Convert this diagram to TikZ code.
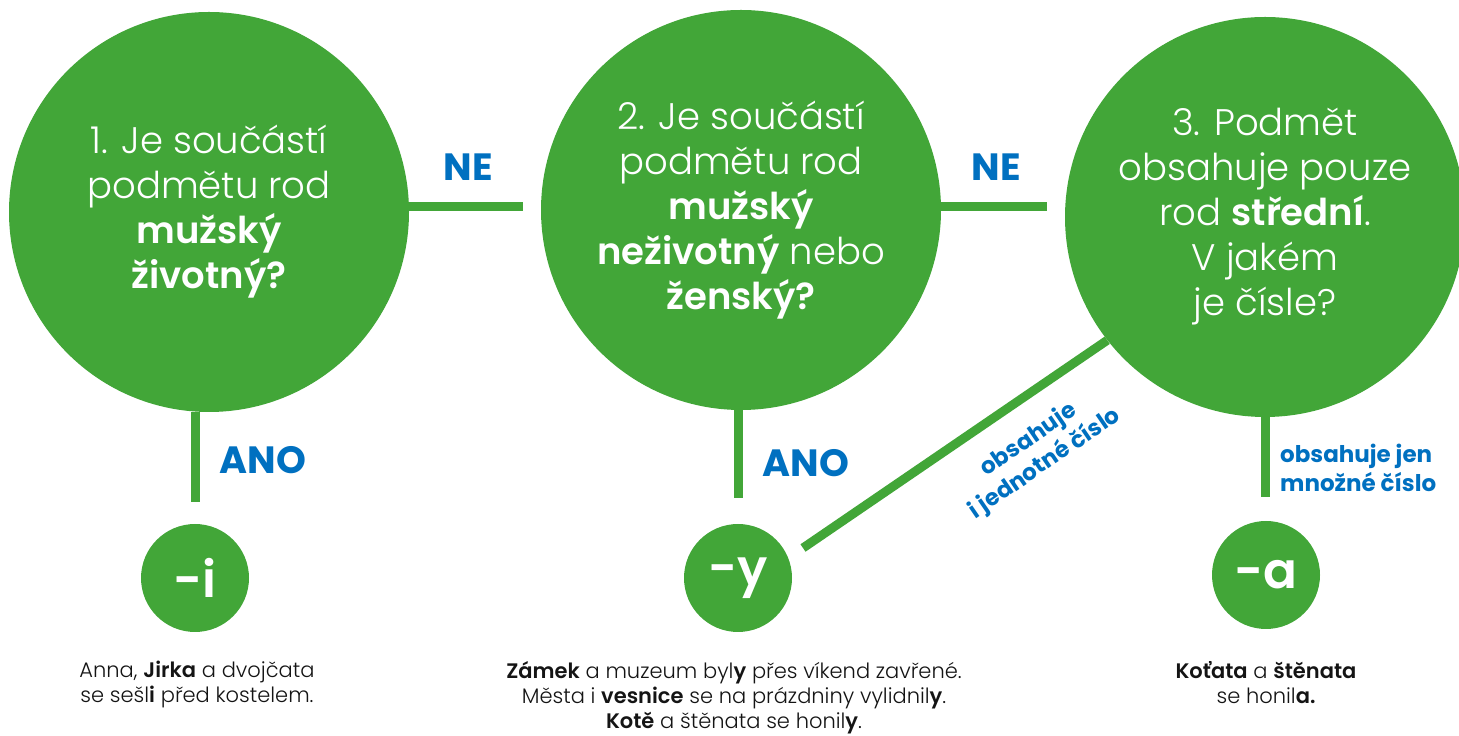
\documentclass[tikz,border=0pt]{standalone}
\usepackage{fontspec}
\setmainfont{Poppins}[UprightFont=* Light, BoldFont=* SemiBold]
\newfontfamily\labfont{Poppins}[UprightFont=* SemiBold, BoldFont=* Bold]
\definecolor{cgreen}{RGB}{66,166,56}
\definecolor{cblue}{RGB}{0,112,192}
\definecolor{ctext}{RGB}{20,20,20}
\tikzset{
  bigq/.style={circle, fill=cgreen, inner sep=0pt, minimum size=400pt, text=white, align=center,
    font=\fontsize{37}{45}\selectfont},
  endc/.style={circle, fill=cgreen, inner sep=0pt, minimum size=108pt, text=white,
    font=\labfont\fontsize{50}{50}\selectfont},
  conn/.style={draw=cgreen, line width=9pt},
  lab/.style={text=cblue, font=\labfont\bfseries\fontsize{38}{40}\selectfont},
  slab/.style={text=cblue, font=\labfont\bfseries\fontsize{23}{29}\selectfont, align=left, inner sep=0pt},
  ex/.style={text=ctext, font=\fontsize{21}{25}\selectfont, align=center, inner sep=0pt, anchor=north}
}
\begin{document}
\begin{tikzpicture}[x=1pt,y=1pt]
\useasboundingbox (0,0) rectangle (1459,736);
% big circles
\node[bigq] (c1) at (209,524) {1. Je součástí\\podmětu rod\\\textbf{mužský}\\\textbf{životný?}};
\node[bigq] (c2) at (741,526) {2. Je součástí\\podmětu rod\\\textbf{mužský}\\\textbf{neživotný} nebo\\\textbf{ženský?}};
\node[bigq] (c3) at (1265,519) {3. Podmět\\obsahuje pouze\\rod \textbf{střední}.\\V jakém\\je čísle?};
% end circles
\node[endc] (ci) at (195,158) {-i};
\node[endc] (cy) at (738,158) {-y};
\node[endc] (ca) at (1266,161) {-a};
% free ends
\coordinate (e1) at (523,529);
\coordinate (e2) at (1047,529);
\coordinate (d1) at (195,234);
\coordinate (d2) at (738,238);
\coordinate (d3) at (1265,239);
\coordinate (dend) at (803,188);
% connectors
\draw[conn] (c1.east |- e1) -- (e1);
\draw[conn] (c2.east |- e2) -- (e2);
\draw[conn] (c1.south -| d1) -- (d1);
\draw[conn] (c2.south -| d2) -- (d2);
\draw[conn] (c3.south -| d3) -- (d3);
\draw[conn] (c3.218) -- (dend);
% labels
\node[lab] (ne1) at (468,569) {NE};
\node[lab] (ne2) at (996,569) {NE};
\node[lab] (ano1) at (263,276) {ANO};
\node[lab] (ano2) at (806,273) {ANO};
\node[slab, align=center, rotate=34.4] (lj) at (1037,284) {obsahuje\\i jednotné číslo};
\node[slab, anchor=west] (lm) at (1280,268) {obsahuje jen\\množné číslo};
% examples
\node[ex] (x1) at (197,75) {Anna, \textbf{Jirka} a dvojčata\\se sešl\textbf{i} před kostelem.};
\node[ex] (x2) at (734,75) {\textbf{Zámek} a muzeum byl\textbf{y} přes víkend zavřené.\\Města i \textbf{vesnice} se na prázdniny vylidnil\textbf{y}.\\\textbf{Kotě} a štěnata se honil\textbf{y}.};
\node[ex] (x3) at (1266,75) {\textbf{Koťata} a \textbf{štěnata}\\se honil\textbf{a.}};
\end{tikzpicture}
\end{document}
